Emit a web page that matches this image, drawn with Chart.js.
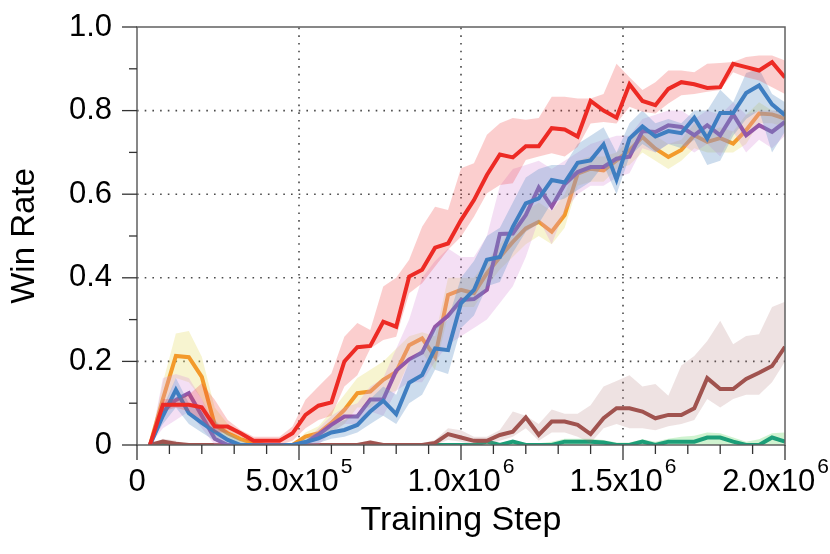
<!DOCTYPE html>
<html><head><meta charset="utf-8">
<script src="https://cdn.jsdelivr.net/npm/chart.js@4.4.1/dist/chart.umd.min.js"></script>
<style>html,body{margin:0;padding:0;background:#fff;}#wrap{width:830px;height:554px;}</style>
</head><body><div id="wrap"><canvas id="c" width="830" height="554"></canvas></div>
<script>
const steps = [40000,80000,120000,160000,200000,240000,280000,320000,360000,400000,
  440000,480000,520000,560000,600000,640000,680000,720000,760000,800000,
  840000,880000,920000,960000,1000000,1040000,1080000,1120000,1160000,1200000,
  1240000,1280000,1320000,1360000,1400000,1440000,1480000,1520000,1560000,1600000,
  1640000,1680000,1720000,1760000,1800000,1840000,1880000,1920000,1960000,2000000];

const red = [0,0.096,0.096,0.096,0.09,0.044,0.044,0.028,0.01,0.01,
  0.01,0.028,0.072,0.094,0.102,0.2,0.234,0.237,0.295,0.283,
  0.403,0.419,0.472,0.482,0.538,0.586,0.646,0.695,0.688,0.715,
  0.715,0.758,0.755,0.738,0.823,0.8,0.783,0.863,0.823,0.813,
  0.852,0.868,0.863,0.854,0.856,0.912,0.904,0.896,0.916,0.879];
const redHi = [0,0.11,0.11,0.12,0.148,0.108,0.06,0.036,0.02,0.02,
  0.02,0.044,0.108,0.14,0.171,0.259,0.292,0.275,0.379,0.4,
  0.443,0.522,0.57,0.562,0.662,0.674,0.742,0.77,0.782,0.778,
  0.782,0.833,0.833,0.829,0.829,0.84,0.912,0.88,0.849,0.868,
  0.896,0.896,0.892,0.912,0.914,0.916,0.928,0.932,0.932,0.92];
const redLo = [0,0.08,0.09,0.08,0.06,0.03,0.03,0.02,0,0,
  0,0.01,0.04,0.06,0.07,0.14,0.167,0.231,0.251,0.259,
  0.363,0.387,0.427,0.467,0.498,0.546,0.602,0.622,0.626,0.682,
  0.69,0.698,0.69,0.713,0.769,0.773,0.769,0.809,0.797,0.793,
  0.817,0.837,0.84,0.845,0.849,0.892,0.88,0.872,0.856,0.84];

const orange = [0,0.11,0.213,0.21,0.163,0.048,0.028,0.014,0.004,0,
  0,0,0.02,0.028,0.053,0.084,0.124,0.128,0.156,0.175,
  0.239,0.255,0.211,0.359,0.371,0.363,0.411,0.45,0.486,0.518,
  0.534,0.51,0.55,0.649,0.661,0.657,0.681,0.705,0.737,0.709,
  0.689,0.706,0.741,0.725,0.734,0.721,0.753,0.793,0.791,0.781];
const orangeHi = [0,0.15,0.267,0.273,0.211,0.09,0.05,0.025,0.01,0,
  0,0,0.03,0.045,0.08,0.12,0.16,0.18,0.2,0.23,
  0.26,0.27,0.26,0.4,0.4,0.4,0.44,0.48,0.52,0.56,
  0.58,0.56,0.6,0.68,0.69,0.69,0.7,0.73,0.76,0.74,
  0.72,0.73,0.77,0.75,0.76,0.75,0.79,0.82,0.8,0.8];
const orangeLo = [0,0.08,0.16,0.15,0.11,0.02,0.01,0,0,0,
  0,0,0.01,0.015,0.03,0.05,0.09,0.09,0.12,0.13,
  0.2,0.22,0.18,0.31,0.33,0.33,0.38,0.42,0.45,0.48,
  0.5,0.48,0.52,0.62,0.63,0.63,0.66,0.67,0.7,0.68,
  0.66,0.68,0.71,0.7,0.7,0.7,0.72,0.77,0.77,0.76];

const blue = [0,0.07,0.132,0.076,0.053,0.032,0.012,0,0,0,
  0,0,0.007,0.016,0.03,0.036,0.048,0.08,0.106,0.074,
  0.149,0.167,0.231,0.227,0.339,0.371,0.443,0.45,0.522,0.578,
  0.59,0.634,0.628,0.675,0.681,0.719,0.635,0.733,0.762,0.738,
  0.751,0.746,0.783,0.733,0.794,0.794,0.842,0.86,0.815,0.789];
const blueHi = [0,0.09,0.16,0.1,0.08,0.06,0.03,0.01,0,0,
  0,0,0.015,0.03,0.045,0.06,0.075,0.11,0.14,0.12,
  0.2,0.23,0.28,0.3,0.4,0.44,0.5,0.52,0.58,0.64,
  0.66,0.67,0.67,0.72,0.74,0.76,0.7,0.77,0.8,0.77,
  0.78,0.77,0.8,0.8,0.85,0.82,0.89,0.9,0.84,0.82];
const blueLo = [0,0.05,0.09,0.05,0.03,0.01,0,0,0,0,
  0,0,0,0.005,0.015,0.02,0.03,0.05,0.07,0.05,
  0.1,0.12,0.18,0.17,0.28,0.31,0.38,0.39,0.46,0.51,
  0.53,0.58,0.59,0.61,0.63,0.67,0.6,0.69,0.72,0.7,
  0.72,0.71,0.73,0.67,0.68,0.74,0.78,0.8,0.7,0.75];

const purple = [0,0.08,0.108,0.124,0.07,0.015,0,0,0,0,
  0,0,0.005,0.025,0.048,0.068,0.068,0.109,0.109,0.178,
  0.205,0.221,0.283,0.309,0.347,0.349,0.371,0.505,0.506,0.55,
  0.616,0.57,0.624,0.653,0.665,0.665,0.685,0.69,0.751,0.749,
  0.765,0.761,0.741,0.765,0.741,0.791,0.741,0.765,0.749,0.773];
const purpleHi = [0,0.16,0.17,0.16,0.11,0.05,0.01,0,0,0,
  0,0,0.01,0.04,0.07,0.09,0.1,0.14,0.16,0.23,
  0.3,0.4,0.44,0.47,0.45,0.45,0.5,0.62,0.66,0.67,
  0.68,0.66,0.68,0.7,0.72,0.73,0.74,0.74,0.78,0.79,
  0.8,0.8,0.78,0.8,0.79,0.82,0.79,0.8,0.8,0.8];
const purpleLo = [0,0.04,0.06,0.08,0.04,0,0,0,0,0,
  0,0,0,0,0.03,0.05,0.05,0.08,0.07,0.13,
  0.15,0.15,0.2,0.24,0.26,0.28,0.3,0.34,0.38,0.45,
  0.54,0.48,0.56,0.6,0.62,0.62,0.64,0.65,0.71,0.7,
  0.72,0.72,0.7,0.72,0.69,0.75,0.7,0.73,0.71,0.74];

const brown = [0,0.008,0.003,0,0,0,0,0,0,0,
  0,0,0,0,0,0,0,0.006,0,0,
  0,0,0.005,0.026,0.018,0.01,0.01,0.024,0.032,0.066,
  0.024,0.056,0.056,0.048,0.026,0.064,0.088,0.088,0.08,0.064,
  0.072,0.072,0.088,0.16,0.134,0.134,0.158,0.173,0.189,0.235];
const brownHi = [0,0.015,0.01,0,0,0,0,0,0,0,
  0,0,0,0,0,0,0.004,0.012,0.004,0.003,
  0.003,0.004,0.012,0.04,0.035,0.02,0.02,0.036,0.08,0.07,
  0.05,0.085,0.075,0.075,0.095,0.14,0.153,0.167,0.14,0.146,
  0.118,0.19,0.213,0.249,0.297,0.241,0.261,0.265,0.33,0.343];
const brownLo = [0,0,0,0,0,0,0,0,0,0,
  0,0,0,0,0,0,0,0,0,0,
  0,0,0,0.012,0.008,0,0,0.01,0.02,0.04,
  0.01,0.03,0.03,0.02,0.005,0.04,0.05,0.04,0.04,0.035,
  0.045,0.05,0.06,0.11,0.09,0.11,0.12,0.12,0.15,0.2];

const green = [0,0,0,0,0,0,0,0,0,0,
  0,0,0,0,0,0,0,0,0,0,
  0,0,0,0,0,0,0.008,0,0.008,0,
  0,0,0.008,0.008,0.008,0.006,0,0,0.008,0,
  0.008,0.008,0.008,0.018,0.018,0.008,0,0,0.018,0.008];
const greenHi = [0,0,0,0,0,0,0,0,0,0,
  0,0,0,0,0,0,0,0,0,0,
  0,0,0,0,0,0.004,0.012,0.004,0.012,0.004,
  0.004,0.008,0.015,0.015,0.015,0.012,0.006,0.006,0.014,0.008,
  0.015,0.02,0.022,0.03,0.028,0.018,0.008,0.014,0.028,0.03];
const greenLo = [0,0,0,0,0,0,0,0,0,0,
  0,0,0,0,0,0,0,0,0,0,
  0,0,0,0,0,0,0,0,0,0,
  0,0,0,0,0,0,0,0,0,0,
  0,0,0,0,0,0,0,0,0,0];

const xTickValues = [0, 500000, 1000000, 1500000, 2000000];
const xTickBase = ['0', '5.0x10', '1.0x10', '1.5x10', '2.0x10'];
const xTickExp = ['', '5', '6', '6', '6'];
const xGridValues = [500000, 1000000, 1500000];
const yGridValues = [0.2, 0.4, 0.6, 0.8];

const FONT = "'Liberation Sans', Arial, Helvetica, sans-serif";

// first entry is drawn on top
const series = [
  {label: 'red', y: red, hi: redHi, lo: redLo, color: '#ED2A24', band: 'rgba(238,60,60,0.25)'},
  {label: 'blue', y: blue, hi: blueHi, lo: blueLo, color: '#3F7EC1', band: 'rgba(100,150,200,0.33)'},
  {label: 'purple', y: purple, hi: purpleHi, lo: purpleLo, color: '#9357A9', band: 'rgba(220,150,220,0.3)'},
  {label: 'orange', y: orange, hi: orangeHi, lo: orangeLo, color: '#F39A2B', band: 'rgba(230,222,110,0.32)'},
  {label: 'brown', y: brown, hi: brownHi, lo: brownLo, color: '#A0534F', band: 'rgba(170,110,110,0.2)'},
  {label: 'green', y: green, hi: greenHi, lo: greenLo, color: '#1C9E78', band: 'rgba(120,220,120,0.35)'}
];

const pts = arr => steps.map((s, i) => ({x: s, y: arr[i]}));
const datasets = [];
series.forEach((s, i) => {
  const base = datasets.length;
  const rank = i * 2;
  datasets.push({label: s.label, data: pts(s.y), borderColor: s.color, borderWidth: 4,
    pointRadius: 0, fill: false, order: rank + 1, tension: 0});
  datasets.push({label: s.label + ' upper', data: pts(s.hi), borderColor: 'rgba(0,0,0,0)', borderWidth: 0,
    pointRadius: 0, backgroundColor: s.band, fill: base + 2, order: rank + 2, tension: 0});
  datasets.push({label: s.label + ' lower', data: pts(s.lo), borderColor: 'rgba(0,0,0,0)', borderWidth: 0,
    pointRadius: 0, fill: false, order: rank + 2, tension: 0});
});

const decor = {
  id: 'decor',
  beforeDatasetsDraw(chart) {
    const {ctx, chartArea: a, scales: {x, y}} = chart;
    ctx.save();
    ctx.strokeStyle = '#4a4a4a';
    ctx.lineWidth = 1.6;
    ctx.setLineDash([1.6, 6.1]);
    xGridValues.forEach(v => {
      const px = x.getPixelForValue(v);
      ctx.beginPath(); ctx.moveTo(px, a.bottom); ctx.lineTo(px, a.top); ctx.stroke();
    });
    yGridValues.forEach(v => {
      const py = y.getPixelForValue(v);
      ctx.beginPath(); ctx.moveTo(a.left, py); ctx.lineTo(a.right, py); ctx.stroke();
    });
    ctx.restore();
  },
  afterDraw(chart) {
    const {ctx, chartArea: a, scales: {x, y}} = chart;
    ctx.save();
    ctx.strokeStyle = '#606060';
    ctx.lineWidth = 1.5;
    ctx.strokeRect(a.left, a.top, a.right - a.left, a.bottom - a.top);
    ctx.strokeStyle = '#333';
    ctx.lineWidth = 1.3;
    for (let v = 0; v <= 2000000 + 1; v += 100000) {
      const px = x.getPixelForValue(v);
      const len = (v % 500000 === 0) ? 15 : 9;
      ctx.beginPath(); ctx.moveTo(px, a.bottom); ctx.lineTo(px, a.bottom + len); ctx.stroke();
    }
    for (let k = 0; k <= 10; k++) {
      const py = y.getPixelForValue(k / 10);
      const len = (k % 2 === 0) ? 15 : 8;
      ctx.beginPath(); ctx.moveTo(a.left, py); ctx.lineTo(a.left - len, py); ctx.stroke();
    }
    ctx.fillStyle = '#000';
    ctx.textBaseline = 'alphabetic';
    ctx.textAlign = 'left';
    xTickValues.forEach((v, i) => {
      const px = x.getPixelForValue(v);
      ctx.font = '31px ' + FONT;
      const wb = ctx.measureText(xTickBase[i]).width;
      ctx.font = '21px ' + FONT;
      const we = xTickExp[i] ? ctx.measureText(xTickExp[i]).width : 0;
      const gap = xTickExp[i] ? 2 : 0;
      let start = px - (wb + gap + we) / 2;
      const total = wb + gap + we;
      if (start + total > chart.width - 1) start = chart.width - 1 - total;
      ctx.font = '31px ' + FONT;
      ctx.fillText(xTickBase[i], start, a.bottom + 46);
      if (xTickExp[i]) {
        ctx.font = '21px ' + FONT;
        ctx.fillText(xTickExp[i], start + wb + gap, a.bottom + 28);
      }
    });
    ctx.restore();
  }
};

new Chart(document.getElementById('c'), {
  type: 'line',
  data: {datasets},
  plugins: [decor],
  options: {
    responsive: false,
    animation: false,
    events: [],
    layout: {padding: {top: 27, right: 45, left: 0, bottom: 0}},
    plugins: {legend: {display: false}, tooltip: {enabled: false}},
    scales: {
      x: {
        type: 'linear', min: 0, max: 2000000,
        grid: {display: false, drawTicks: false},
        border: {display: false},
        ticks: {display: false},
        title: {display: true, text: 'Training Step', color: '#000',
          font: {family: FONT, size: 34}, padding: {top: 0, bottom: 13}},
        afterFit: s => { s.height = 109; s.paddingLeft = 0; s.paddingRight = 0; }
      },
      y: {
        min: 0, max: 1,
        grid: {display: false, drawTicks: false},
        border: {display: false},
        ticks: {stepSize: 0.2, padding: 25, color: '#000', font: {family: FONT, size: 31},
          callback: v => (Math.abs(v) < 1e-9 ? '0' : Number(v).toFixed(1))},
        title: {display: true, text: 'Win Rate', color: '#000',
          font: {family: FONT, size: 33}, padding: {top: 5, bottom: 0}},
        afterFit: s => { s.width = 137; s.paddingTop = 0; s.paddingBottom = 0; }
      }
    }
  }
});
</script>
</body></html>
